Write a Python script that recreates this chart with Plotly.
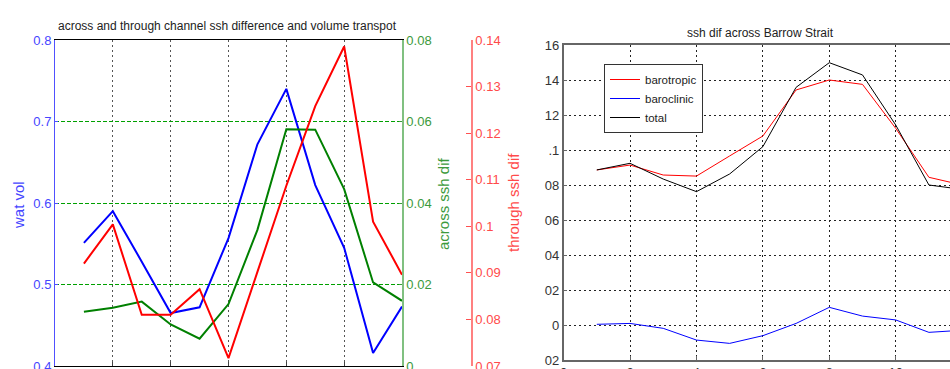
import plotly.graph_objects as go

# ---------------- data ----------------
months = [1, 2, 3, 4, 5, 6, 7, 8, 9, 10, 11, 12]

wat_vol = [0.551, 0.590, 0.528, 0.465, 0.472, 0.557, 0.672, 0.740, 0.622, 0.545, 0.416, 0.473]
across_ssh = [0.0133, 0.0143, 0.0158, 0.0102, 0.0067, 0.0152, 0.0334, 0.0581, 0.0580, 0.0434, 0.0205, 0.0160]
through_ssh = [0.0920, 0.1004, 0.0810, 0.0810, 0.0865, 0.0717, 0.0902, 0.1087, 0.1258, 0.1386, 0.1010, 0.0896]

barotropic = [0.0886, 0.0914, 0.0857, 0.0851, 0.0966, 0.1080, 0.1343, 0.1400, 0.1375, 0.1124, 0.0844, 0.0800]
baroclinic = [0.0004, 0.0009, -0.0019, -0.0086, -0.0105, -0.0061, 0.0009, 0.0101, 0.0051, 0.0029, -0.0042, -0.0030]
total = [0.0886, 0.0924, 0.0834, 0.0762, 0.0863, 0.1019, 0.1358, 0.1499, 0.1429, 0.1143, 0.0800, 0.0775]

vol_ticks = [0.4, 0.5, 0.6, 0.7, 0.8]
vol_ticktext = ["0.4", "0.5", "0.6", "0.7", "0.8"]
across_ticks = [0.0, 0.02, 0.04, 0.06, 0.08]
across_ticktext = ["0", "0.02", "0.04", "0.06", "0.08"]
through_ticks = [0.07, 0.08, 0.09, 0.10, 0.11, 0.12, 0.13, 0.14]
through_ticktext = ["0.07", "0.08", "0.09", "0.1", "0.11", "0.12", "0.13", "0.14"]

right_ytickvals = [0.16, 0.14, 0.12, 0.10, 0.08, 0.06, 0.04, 0.02, 0.0, -0.02]
right_yticktext = ["16", "14", "12", ".1", "08", "06", "04", "02", "0", "02"]

left_title = "across and through channel ssh difference and volume transpot"
right_title = "ssh dif across Barrow Strait"

# ---------------- figure ----------------
W, H = 950, 369
FONT = "Liberation Sans, Arial, sans-serif"
BLUE_T = "#4646ff"
GREEN_T = "#3c9a3c"
RED_T = "#ff4a4a"
GRID_GREEN = "#00a000"

def px_x(p):
    return p / W

def px_y(p):
    return (H - p) / H

fig = go.Figure()

fig.add_trace(go.Scatter(x=months, y=wat_vol, mode="lines", line=dict(color="#0000ff", width=2),
                         xaxis="x", yaxis="y", showlegend=False))
fig.add_trace(go.Scatter(x=months, y=across_ssh, mode="lines", line=dict(color="#008000", width=2),
                         xaxis="x", yaxis="y2", showlegend=False))
fig.add_trace(go.Scatter(x=months, y=through_ssh, mode="lines", line=dict(color="#ff0000", width=2),
                         xaxis="x", yaxis="y3", showlegend=False))

fig.add_trace(go.Scatter(x=months, y=barotropic, mode="lines", name="barotropic",
                         line=dict(color="#ff0000", width=1), xaxis="x2", yaxis="y4"))
fig.add_trace(go.Scatter(x=months, y=baroclinic, mode="lines", name="baroclinic",
                         line=dict(color="#0000ff", width=1), xaxis="x2", yaxis="y4"))
fig.add_trace(go.Scatter(x=months, y=total, mode="lines", name="total",
                         line=dict(color="#000000", width=1), xaxis="x2", yaxis="y4"))

left_xdom = [px_x(55), px_x(402)]
left_ydom = [px_y(366), px_y(40)]
right_xdom = [px_x(563.6), 1.0]
right_ydom = [px_y(360), px_y(45)]

fig.update_layout(
    template="none",
    width=W, height=H,
    margin=dict(l=0, r=0, t=0, b=0, pad=0, autoexpand=False),
    paper_bgcolor="white", plot_bgcolor="white",
    font=dict(family=FONT, size=13, color="#222222"),
    xaxis=dict(domain=left_xdom, range=[0, 12], dtick=2, showgrid=True, automargin=False,
               gridcolor="#555555", griddash="2px,3px", gridwidth=1,
               showline=True, linecolor="#000000", linewidth=1, mirror=True,
               ticks="inside", ticklen=4, zeroline=False, anchor="y",
               showticklabels=False),
    yaxis=dict(domain=left_ydom, range=[0.4, 0.8], tickvals=vol_ticks, ticktext=vol_ticktext,
               showgrid=True, gridcolor=GRID_GREEN, griddash="4px,2px", gridwidth=1,
               automargin=False, ticklabeloverflow="allow",
               showline=True, linecolor="#5050ff", linewidth=1, zeroline=False,
               ticks="inside", ticklen=3, tickcolor="#5050ff", anchor="x",
               tickfont=dict(size=13, color=BLUE_T)),
    yaxis2=dict(range=[0, 0.08], tickvals=across_ticks, ticktext=across_ticktext,
                overlaying="y", side="right", anchor="x",
                automargin=False, ticklabeloverflow="allow", showgrid=False,
                showline=True, linecolor="#80c080", linewidth=1.5, zeroline=False,
                ticks="inside", ticklen=3, tickcolor="#3c9a3c",
                tickfont=dict(size=13, color=GREEN_T)),
    yaxis3=dict(range=[0.07, 0.14], tickvals=through_ticks, ticktext=through_ticktext,
                overlaying="y", side="right",
                anchor="free", position=px_x(472), automargin=False, ticklabeloverflow="allow",
                showgrid=False, showline=True, linecolor="#ff8080", linewidth=1.5,
                zeroline=False, ticks="inside", ticklen=5, tickcolor="#ff5050",
                tickfont=dict(size=13, color=RED_T)),
    xaxis2=dict(domain=right_xdom, range=[0, 11.635], dtick=2, showgrid=True, automargin=False,
                gridcolor="#222222", griddash="2px,3px", gridwidth=1, ticklabeloverflow="allow",
                showline=True, linecolor="#666666", linewidth=1.5, mirror=True,
                ticks="inside", ticklen=4, tickcolor="#666666", zeroline=False, anchor="y4",
                tickfont=dict(size=13, color="#333333")),
    yaxis4=dict(domain=right_ydom, range=[-0.02, 0.16], tickvals=right_ytickvals,
                ticktext=right_yticktext, showgrid=True, gridcolor="#222222", automargin=False,
                griddash="2px,3px", gridwidth=1, showline=True, linecolor="#666666",
                linewidth=1.5, mirror=False, ticks="inside", ticklen=4, tickcolor="#666666",
                zeroline=False, anchor="x2", ticklabeloverflow="allow",
                tickfont=dict(size=13, color="#333333")),
    legend=dict(x=px_x(604), y=px_y(64), xanchor="left", yanchor="top",
                bgcolor="white", bordercolor="#333333", borderwidth=1,
                font=dict(size=11.5, color="#222222"), itemwidth=30,
                tracegroupgap=0),
    showlegend=True,
)

annotations = [
    dict(text=left_title, x=px_x(227.5), y=px_y(26), xref="paper", yref="paper",
         showarrow=False, font=dict(size=12, color="#222222"), xanchor="center", yanchor="middle"),
    dict(text=right_title, x=px_x(760.7), y=px_y(33), xref="paper", yref="paper",
         showarrow=False, font=dict(size=12, color="#222222"), xanchor="center", yanchor="middle"),
    dict(text="wat vol", x=px_x(18), y=px_y(205), xref="paper", yref="paper", textangle=-90,
         showarrow=False, font=dict(size=15, color=BLUE_T), xanchor="center", yanchor="middle"),
    dict(text="across ssh dif", x=px_x(443), y=px_y(204), xref="paper", yref="paper", textangle=-90,
         showarrow=False, font=dict(size=15, color=GREEN_T), xanchor="center", yanchor="middle"),
    dict(text="through ssh dif", x=px_x(513), y=px_y(203), xref="paper", yref="paper", textangle=-90,
         showarrow=False, font=dict(size=15, color=RED_T), xanchor="center", yanchor="middle"),
]
fig.update_layout(annotations=annotations)

fig.write_html("out.html")
